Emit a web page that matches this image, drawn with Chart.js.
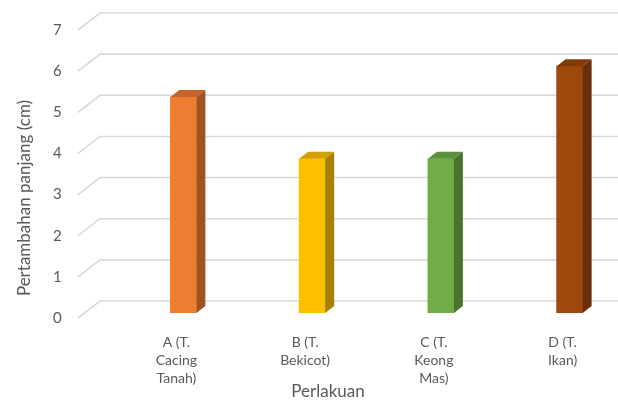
<!DOCTYPE html>
<html>
<head>
<meta charset="utf-8">
<script src="https://cdn.jsdelivr.net/npm/chart.js@4.4.0/dist/chart.umd.min.js"></script>
<style>
  html, body { margin: 0; padding: 0; background: #fff; }
  #wrap { width: 618px; height: 401px; }
</style>
</head>
<body>
<div id="wrap"><canvas id="perlakuan_bar"></canvas></div>
<script>
const categories = [
    ['A (T.', 'Cacing', 'Tanah)'],
    ['B (T.', 'Bekicot)'],
    ['C (T.', 'Keong', 'Mas)'],
    ['D (T.', 'Ikan)']
];
const values = [5.25, 3.75, 3.75, 6.0];
const yTicks = [0, 1, 2, 3, 4, 5, 6, 7];

const frontColors = ['#ED7D31', '#FFC000', '#70AD47', '#9E480E'];
const topColors = ['#C4632A', '#D4A000', '#5B9239', '#823A0B'];
const sideColors = ['#A0521F', '#A88000', '#4A7330', '#6A2F08'];

const FONT = 'Lato, "Open Sans", sans-serif';
const TEXT = '#595959';
const DEPTH_X = 9, DEPTH_Y = 7;       // bar depth
const SHIFT_X = 16, SHIFT_Y = -5;     // bars sit a bit back from the front plane

// fake 3d: slanted gridlines, bar tops and sides, axis titles
const threeD = {
    id: 'threeD',
    beforeDatasetsDraw(chart) {
        const ctx = chart.ctx;
        const area = chart.chartArea;
        const y = chart.scales.y;
        ctx.save();
        ctx.strokeStyle = '#D9D9D9';
        ctx.lineWidth = 1.6;
        y.ticks.forEach(t => {
            const py = y.getPixelForValue(t.value);
            ctx.beginPath();
            ctx.moveTo(area.left - 25, py);
            ctx.lineTo(area.left - 3, py - 17);
            ctx.lineTo(area.right, py - 17);
            ctx.stroke();
        });
        ctx.restore();
        ctx.save();
        ctx.translate(SHIFT_X, SHIFT_Y);
    },
    afterDatasetsDraw(chart) {
        const ctx = chart.ctx;
        const meta = chart.getDatasetMeta(0);
        meta.data.forEach((bar, i) => {
            const p = bar.getProps(['x', 'y', 'base', 'width'], true);
            const l = p.x - p.width / 2, r = p.x + p.width / 2;
            ctx.fillStyle = topColors[i];
            ctx.beginPath();
            ctx.moveTo(l, p.y);
            ctx.lineTo(r, p.y);
            ctx.lineTo(r + DEPTH_X, p.y - DEPTH_Y);
            ctx.lineTo(l + DEPTH_X, p.y - DEPTH_Y);
            ctx.closePath();
            ctx.fill();
            ctx.fillStyle = sideColors[i];
            ctx.beginPath();
            ctx.moveTo(r, p.y);
            ctx.lineTo(r + DEPTH_X, p.y - DEPTH_Y);
            ctx.lineTo(r + DEPTH_X, p.base - DEPTH_Y);
            ctx.lineTo(r, p.base);
            ctx.closePath();
            ctx.fill();
        });
        ctx.restore();
    },
    afterDraw(chart) {
        const ctx = chart.ctx;
        ctx.save();
        ctx.fillStyle = TEXT;
        ctx.font = '17px ' + FONT;
        ctx.textAlign = 'center';
        ctx.textBaseline = 'middle';
        ctx.fillText('Perlakuan', 328, 392);
        ctx.translate(25, 198);
        ctx.rotate(-Math.PI / 2);
        ctx.fillText('Pertambahan panjang (cm)', 0, 0);
        ctx.restore();
    }
};

const perlakuan_bar = document.getElementById('perlakuan_bar').getContext('2d');
new Chart(perlakuan_bar, {
    type: 'bar',
    data: {
        labels: categories,
        datasets: [{
            data: values,
            backgroundColor: frontColors,
            borderWidth: 0,
            barThickness: 26
        }]
    },
    options: {
        responsive: true,
        maintainAspectRatio: false,
        animation: false,
        layout: {
            padding: { left: 53, top: 30, right: 0, bottom: 0 }
        },
        plugins: {
            legend: { display: false },
            tooltip: { enabled: false },
            title: { display: false }
        },
        scales: {
            x: {
                grid: { display: false, drawTicks: false },
                border: { display: false },
                afterFit: s => { s.height = 83; },
                ticks: {
                    color: TEXT,
                    font: { family: FONT, size: 14, lineHeight: 1.3 },
                    padding: 15,
                    labelOffset: 9,
                    maxRotation: 0,
                    autoSkip: false
                }
            },
            y: {
                min: 0,
                max: 7,
                grid: { display: false, drawTicks: false },
                border: { display: false },
                afterFit: s => { s.width = 50; },
                afterBuildTicks: s => { s.ticks = yTicks.map(v => ({ value: v })); },
                ticks: {
                    color: TEXT,
                    font: { family: FONT, size: 15 },
                    padding: 0,
                    crossAlign: 'far'
                }
            }
        }
    },
    plugins: [threeD]
});
</script>
</body>
</html>
